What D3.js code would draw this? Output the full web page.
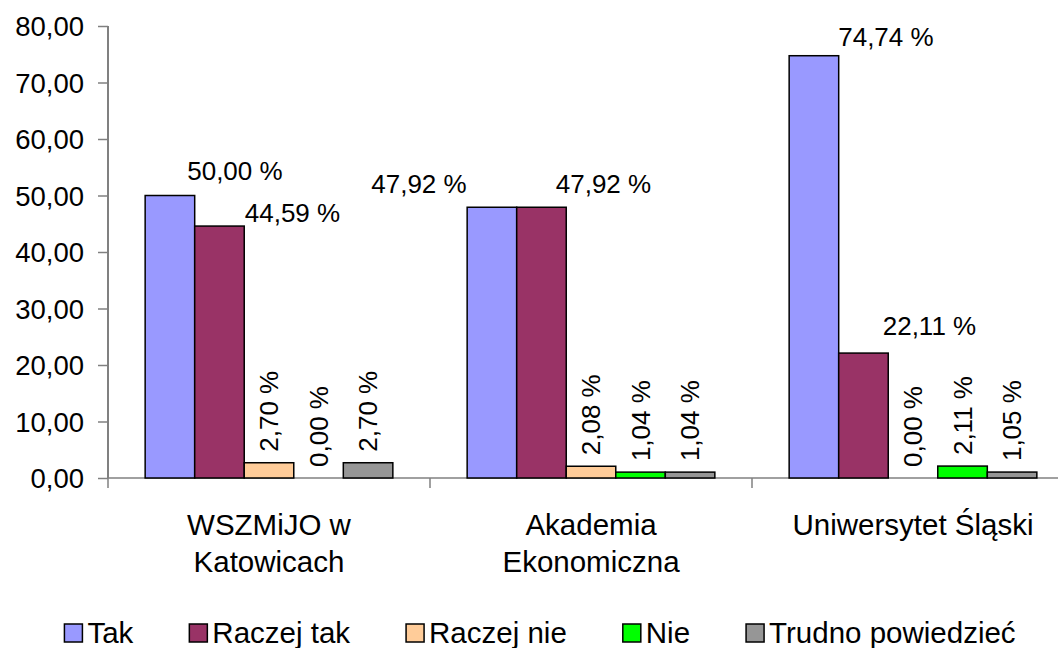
<!DOCTYPE html>
<html>
<head>
<meta charset="utf-8">
<script src="https://cdn.jsdelivr.net/npm/d3@7"></script>
<style>
  html, body { margin: 0; padding: 0; background: #fff; }
  svg { display: block; font-family: "Liberation Sans", Arial, sans-serif; }
</style>
</head>
<body>
<svg id="chart" width="1058" height="648"></svg>
<script>
// ---- data ----
const categories = ["WSZMiJO w|Katowicach", "Akademia|Ekonomiczna", "Uniwersytet Śląski"];
const series = ["Tak", "Raczej tak", "Raczej nie", "Nie", "Trudno powiedzieć"];
const colors = ["#9999FF", "#993366", "#FFCC99", "#00FF00", "#969696"];
const valuesWSZMiJO = [50.00, 44.59, 2.70, 0.00, 2.70];
const valuesAkademia = [47.92, 47.92, 2.08, 1.04, 1.04];
const valuesUniwersytet = [74.74, 22.11, 0.00, 2.11, 1.05];
const values = [valuesWSZMiJO, valuesAkademia, valuesUniwersytet];
const yTicks = [0, 10, 20, 30, 40, 50, 60, 70, 80];
// manual shifts of the (hand-placed) horizontal data labels
const labelShiftX = [[65, 73, 0, 0, 0], [-73, 62, 0, 0, 0], [72, 66, 0, 0, 0]];
const labelShiftY = [[-16, -4, 0, 0, 0], [-14, -14, 0, 0, 0], [-10, -18, 0, 0, 0]];

(function () {
const fmt = v => d3.format(".2f")(v).replace(".", ",");

const svg = d3.select("#chart");
const mLeft = 108, mRight = 1074, mTop = 26, mBottom = 478;

const x0 = d3.scaleBand().domain(d3.range(categories.length)).range([mLeft, mRight]).paddingInner(0).paddingOuter(0);
const x1 = d3.scaleBand().domain(d3.range(series.length)).range([0, x0.bandwidth()]).paddingInner(0).paddingOuter(0.75);
const y = d3.scaleLinear().domain([0, 80]).range([mBottom, mTop]);

const axisColor = "#808080";

// y axis
const yAxis = svg.append("g").attr("transform", `translate(${mLeft},0)`)
  .call(d3.axisLeft(y).tickValues(yTicks).tickSize(10).tickPadding(14).tickFormat(fmt));
yAxis.select(".domain").attr("stroke", axisColor).attr("stroke-width", 2).attr("d", `M0,${mTop}V${mBottom}`);
yAxis.selectAll(".tick line").attr("stroke", axisColor).attr("stroke-width", 1.5);
yAxis.selectAll(".tick text").attr("font-size", 27.5).attr("fill", "#000")
  .attr("font-family", "Liberation Sans, Arial, sans-serif").attr("dy", "0.36em");

// x axis line + group ticks
svg.append("line").attr("x1", mLeft).attr("x2", 1058).attr("y1", mBottom).attr("y2", mBottom)
  .attr("stroke", axisColor).attr("stroke-width", 1.5);
const bounds = d3.range(categories.length + 1).map(i => i < categories.length ? x0(i) : x0(i - 1) + x0.bandwidth());
svg.selectAll("line.xt").data(bounds).enter().append("line")
  .attr("x1", d => d).attr("x2", d => d).attr("y1", mBottom).attr("y2", mBottom + 10)
  .attr("stroke", axisColor).attr("stroke-width", 1.5);

// bars
const groups = svg.selectAll("g.grp").data(values).enter().append("g")
  .attr("transform", (d, i) => `translate(${x0(i)},0)`);
groups.selectAll("rect").data(d => d).enter().append("rect")
  .attr("x", (d, j) => x1(j))
  .attr("width", x1.bandwidth())
  .attr("y", d => y(d))
  .attr("height", d => mBottom - y(d))
  .attr("fill", (d, j) => colors[j])
  .attr("stroke", d => d > 0 ? "#000" : "none")
  .attr("stroke-width", 1.5);

// data labels
groups.each(function (vals, i) {
  const g = d3.select(this);
  vals.forEach((v, j) => {
    const cx = x1(j) + x1.bandwidth() / 2;
    const txt = fmt(v) + " %";
    if (v >= 10) {
      g.append("text").attr("x", cx + labelShiftX[i][j]).attr("y", y(v) + labelShiftY[i][j])
        .attr("text-anchor", "middle").attr("font-size", 26).text(txt);
    } else {
      g.append("text").attr("transform", `translate(${cx},${y(v) - 11}) rotate(-90)`)
        .attr("dy", "0.35em").attr("text-anchor", "start").attr("font-size", 26).text(txt);
    }
  });
});

// category labels
categories.forEach((c, i) => {
  const lines = c.split("|");
  const cx = x0(i) + x0.bandwidth() / 2;
  const t = svg.append("text").attr("text-anchor", "middle").attr("font-size", 29.5);
  lines.forEach((l, k) => t.append("tspan").attr("x", cx).attr("y", 535 + k * 37).text(l));
});

// legend
const legend = svg.append("g");
let lx = 0;
const gap = 56;
series.forEach((s, j) => {
  const it = legend.append("g").attr("transform", `translate(${lx},0)`);
  it.append("rect").attr("x", 0).attr("y", 624).attr("width", 18).attr("height", 18)
    .attr("fill", colors[j]).attr("stroke", "#000").attr("stroke-width", 1.5);
  const t = it.append("text").attr("x", 23).attr("y", 643).attr("font-size", 29.5).text(s);
  lx += 23 + t.node().getComputedTextLength() + gap;
});
const totalW = lx - gap;
legend.attr("transform", `translate(${540 - totalW / 2},0)`);
})();
</script>
</body>
</html>
